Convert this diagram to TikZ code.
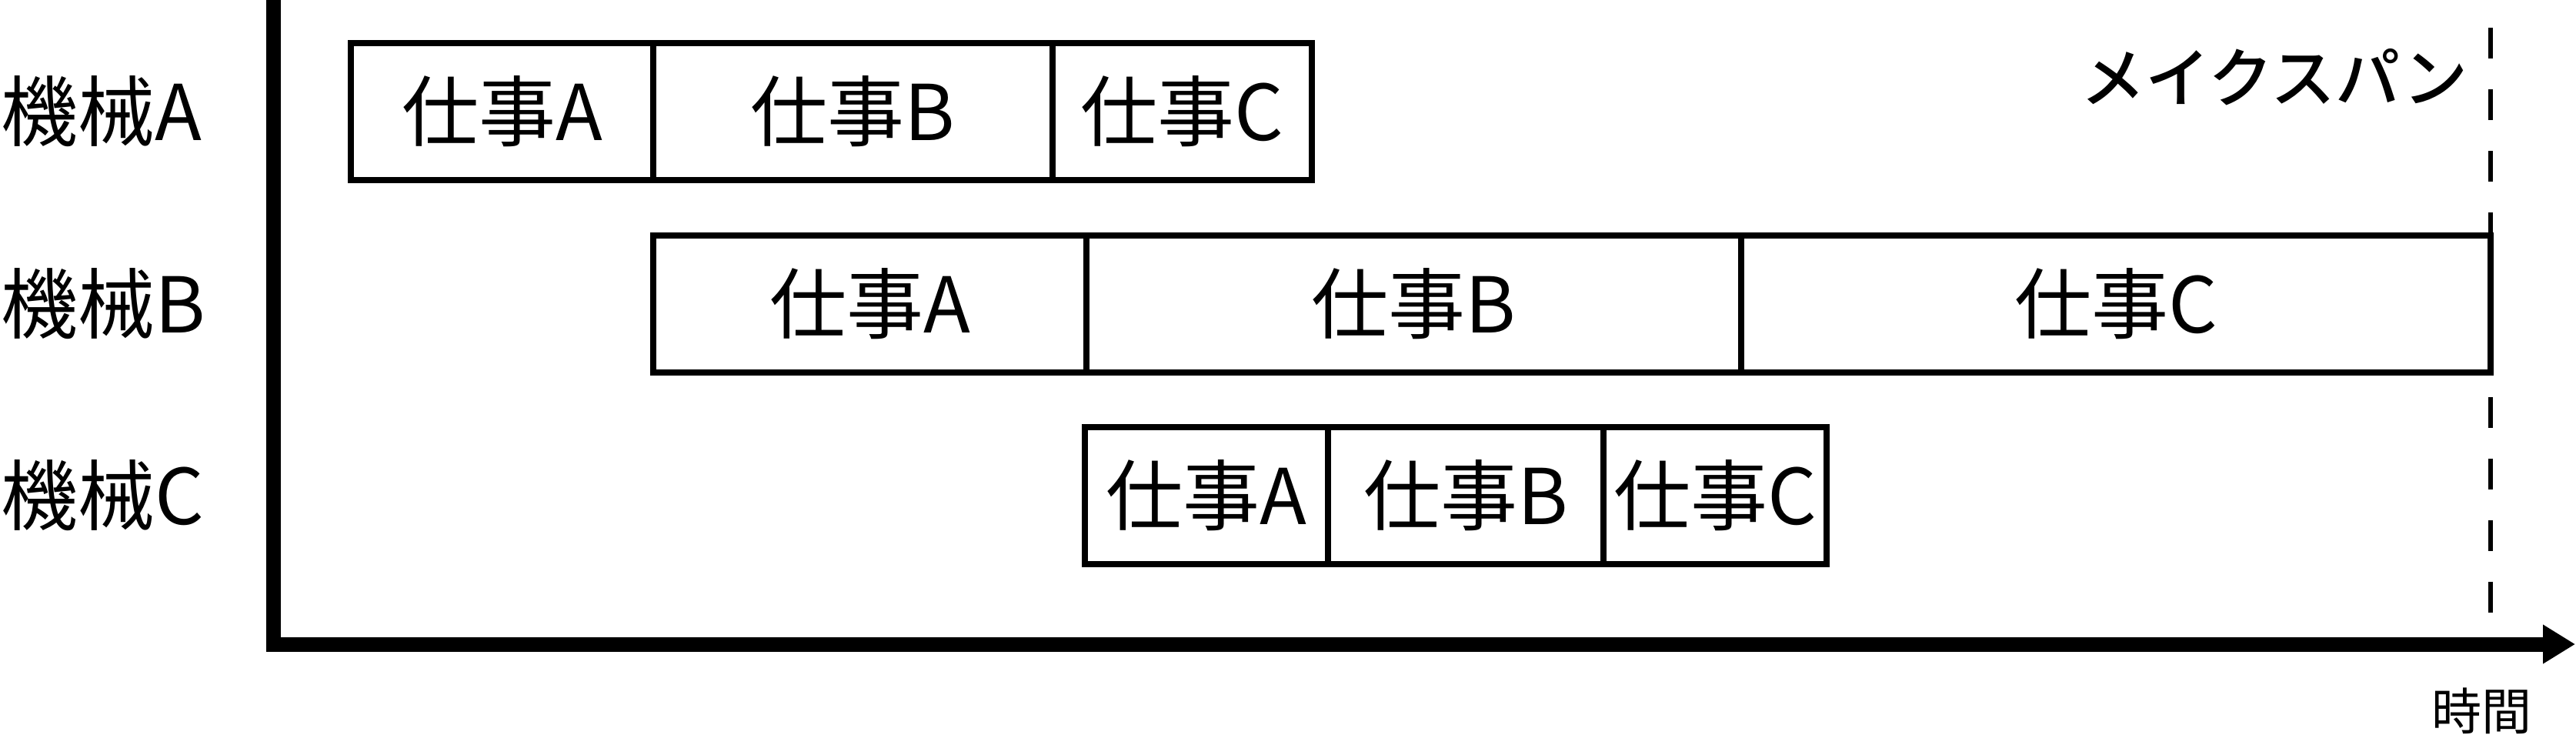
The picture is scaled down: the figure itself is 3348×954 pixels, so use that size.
\documentclass[tikz,border=0pt]{standalone}
\usepackage{fontspec}
\newfontfamily\jp{Noto Sans CJK JP}
\newfontfamily\jpmed{Noto Sans CJK JP}[UprightFont=* Medium]
\usetikzlibrary{arrows.meta}
\begin{document}
\begin{tikzpicture}[x=0.1pt,y=-0.1pt,
  job/.style={draw,fill=white,line width=0.75pt,inner sep=0pt,outer sep=0pt,
    minimum height=17.8pt,font=\jp\fontsize{10pt}{12pt}\selectfont},
  machine/.style={anchor=west,inner sep=0pt,font=\jp\fontsize{10pt}{12pt}\selectfont},
  axisline/.style={line width=1.9pt,line join=miter,-{Triangle[length=4.2pt,width=4.8pt]}},
  spanline/.style={line width=0.65pt,dash pattern=on 4pt off 4pt},
  spanlabel/.style={inner sep=0pt,font=\jpmed\fontsize{8.4pt}{10pt}\selectfont},
  timelabel/.style={inner sep=0pt,font=\jp\fontsize{6.5pt}{8pt}\selectfont}
]
\useasboundingbox (0,0) rectangle (3348,954);

% makespan dashed line
\coordinate (mstop) at (3237,36);
\coordinate (msbot) at (3237,796);
\draw[spanline] (mstop) -- (msbot);

% axes
\coordinate (ytop) at (355,0);
\coordinate (origin) at (355,837);
\coordinate (xend) at (3347,837);
\draw[axisline] (ytop) -- (origin) -- (xend);

% machine labels
\node[machine] (mA) at (0,145) {機械A};
\node[machine] (mB) at (0,395) {機械B};
\node[machine] (mC) at (0,644) {機械C};

% row A
\node[job,minimum width=39.3pt] (a1) at (652.5,145) {仕事A};
\node[job,minimum width=51.9pt] (a2) at (1108.5,145) {仕事B};
\node[job,minimum width=33.7pt] (a3) at (1536.5,145) {仕事C};

% row B
\node[job,minimum width=56.3pt] (b1) at (1130.5,395) {仕事A};
\node[job,minimum width=85.1pt] (b2) at (1837.5,395) {仕事B};
\node[job,minimum width=97.4pt] (b3) at (2750,395) {仕事C};

% row C
\node[job,minimum width=31.6pt] (c1) at (1568,644) {仕事A};
\node[job,minimum width=35.8pt] (c2) at (1905,644) {仕事B};
\node[job,minimum width=29pt] (c3) at (2229,644) {仕事C};

% labels
\node[spanlabel] (span) at (2956,100) {メイクスパン};
\node[timelabel] (time) at (3225,924) {時間};
\end{tikzpicture}
\end{document}
